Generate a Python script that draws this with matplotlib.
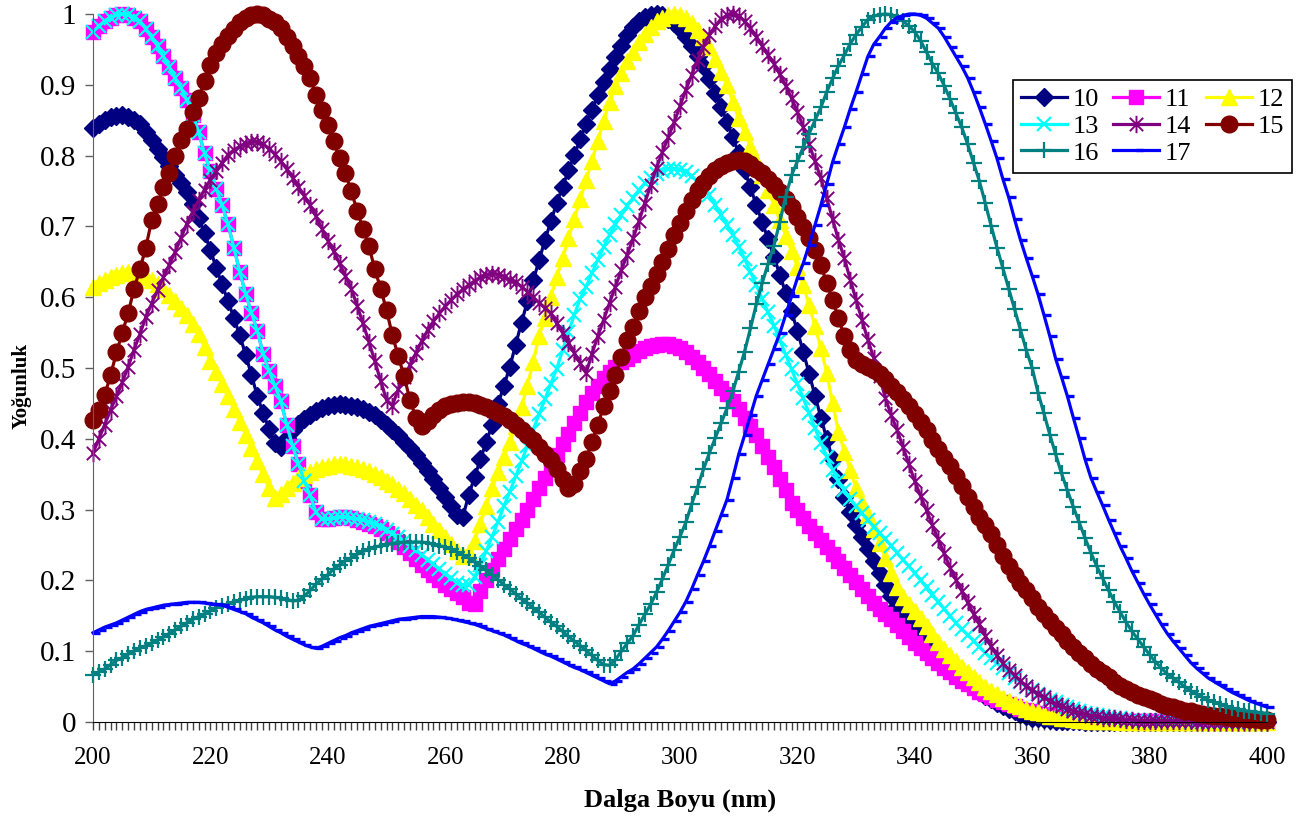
import numpy as np
import matplotlib
matplotlib.use("Agg")
import matplotlib.pyplot as plt
from matplotlib.path import Path

plt.rcParams["font.family"] = ["Liberation Serif", "DejaVu Serif"]

# wavelength grid: one point per nm, 200..400
wavelength = np.arange(200, 401)

# each row = 10 nm
s10 = [0.839, 0.845, 0.850, 0.854, 0.856, 0.857, 0.855, 0.850, 0.845, 0.834,
       0.822, 0.810, 0.798, 0.785, 0.773, 0.761, 0.748, 0.731, 0.712, 0.690,
       0.667, 0.641, 0.618, 0.594, 0.571, 0.546, 0.519, 0.490, 0.460, 0.436,
       0.414, 0.394, 0.388, 0.401, 0.412, 0.421, 0.428, 0.434, 0.439, 0.443,
       0.446, 0.448, 0.449, 0.448, 0.447, 0.445, 0.442, 0.438, 0.433, 0.427,
       0.420, 0.413, 0.405, 0.396, 0.387, 0.377, 0.366, 0.355, 0.343, 0.331,
       0.318, 0.305, 0.292, 0.290, 0.320, 0.346, 0.371, 0.396, 0.420, 0.449,
       0.475, 0.501, 0.533, 0.564, 0.594, 0.624, 0.652, 0.681, 0.707, 0.733,
       0.756, 0.779, 0.801, 0.823, 0.845, 0.865, 0.885, 0.904, 0.922, 0.939,
       0.955, 0.970, 0.981, 0.990, 0.996, 0.999, 1.000, 0.998, 0.993, 0.987,
       0.979, 0.968, 0.955, 0.941, 0.926, 0.908, 0.889, 0.869, 0.848, 0.826,
       0.803, 0.779, 0.755, 0.730, 0.706, 0.682, 0.657, 0.632, 0.606, 0.580,
       0.552, 0.523, 0.492, 0.461, 0.430, 0.400, 0.371, 0.343, 0.318, 0.296,
       0.278, 0.261, 0.245, 0.228, 0.211, 0.194, 0.178, 0.164, 0.152, 0.140,
       0.130, 0.120, 0.110, 0.101, 0.092, 0.084, 0.076, 0.069, 0.062, 0.055,
       0.049, 0.043, 0.037, 0.032, 0.027, 0.023, 0.018, 0.015, 0.011, 0.008,
       0.006, 0.005, 0.004, 0.003, 0.002, 0.001, 0.001, 0.001, 0.001, 0.0,
       0.0, 0.0, 0.0, 0.0, 0.0, 0.0, 0.0, 0.0, 0.0, 0.0,
       0.0, 0.0, 0.0, 0.0, 0.0, 0.0, 0.0, 0.0, 0.0, 0.0,
       0.0, 0.0, 0.0, 0.0, 0.0, 0.0, 0.0, 0.0, 0.0, 0.0,
       0.0]

s11 = [0.975, 0.983, 0.990, 0.995, 0.998, 1.000, 0.999, 0.995, 0.990, 0.979,
       0.967, 0.955, 0.940, 0.925, 0.910, 0.895, 0.878, 0.858, 0.833, 0.803,
       0.778, 0.753, 0.730, 0.703, 0.670, 0.636, 0.605, 0.578, 0.552, 0.520,
       0.496, 0.475, 0.453, 0.420, 0.390, 0.365, 0.340, 0.320, 0.296, 0.287,
       0.287, 0.288, 0.289, 0.289, 0.288, 0.286, 0.283, 0.280, 0.277, 0.273,
       0.267, 0.261, 0.254, 0.247, 0.239, 0.230, 0.222, 0.214, 0.207, 0.200,
       0.194, 0.188, 0.182, 0.176, 0.168, 0.166, 0.185, 0.200, 0.215, 0.230,
       0.244, 0.259, 0.272, 0.286, 0.300, 0.315, 0.330, 0.345, 0.360, 0.377,
       0.392, 0.407, 0.422, 0.437, 0.452, 0.464, 0.475, 0.486, 0.494, 0.502,
       0.508, 0.513, 0.519, 0.524, 0.528, 0.531, 0.533, 0.534, 0.534, 0.531,
       0.528, 0.522, 0.515, 0.508, 0.500, 0.491, 0.482, 0.472, 0.463, 0.453,
       0.442, 0.430, 0.418, 0.405, 0.390, 0.375, 0.360, 0.343, 0.327, 0.310,
       0.300, 0.288, 0.277, 0.267, 0.257, 0.247, 0.237, 0.228, 0.218, 0.208,
       0.198, 0.188, 0.178, 0.168, 0.160, 0.152, 0.145, 0.137, 0.129, 0.120,
       0.112, 0.104, 0.097, 0.090, 0.083, 0.076, 0.070, 0.064, 0.058, 0.053,
       0.048, 0.043, 0.039, 0.035, 0.031, 0.028, 0.025, 0.022, 0.019, 0.017,
       0.015, 0.013, 0.011, 0.010, 0.008, 0.007, 0.006, 0.006, 0.005, 0.004,
       0.004, 0.003, 0.003, 0.003, 0.002, 0.002, 0.002, 0.002, 0.001, 0.001,
       0.001, 0.001, 0.001, 0.001, 0.001, 0.0, 0.0, 0.0, 0.0, 0.0,
       0.0, 0.0, 0.0, 0.0, 0.0, 0.0, 0.0, 0.0, 0.0, 0.0,
       0.0]

s12 = [0.615, 0.620, 0.625, 0.629, 0.632, 0.634, 0.635, 0.634, 0.633, 0.629,
       0.624, 0.618, 0.612, 0.603, 0.594, 0.585, 0.575, 0.562, 0.548, 0.530,
       0.510, 0.494, 0.477, 0.460, 0.442, 0.424, 0.406, 0.387, 0.368, 0.350,
       0.330, 0.316, 0.322, 0.330, 0.337, 0.344, 0.349, 0.353, 0.357, 0.360,
       0.362, 0.364, 0.365, 0.364, 0.362, 0.360, 0.357, 0.354, 0.350, 0.346,
       0.341, 0.336, 0.329, 0.323, 0.315, 0.307, 0.299, 0.290, 0.280, 0.271,
       0.262, 0.251, 0.242, 0.235, 0.240, 0.256, 0.280, 0.305, 0.330, 0.353,
       0.374, 0.395, 0.418, 0.445, 0.475, 0.509, 0.545, 0.571, 0.600, 0.628,
       0.655, 0.683, 0.711, 0.738, 0.765, 0.793, 0.821, 0.849, 0.876, 0.898,
       0.917, 0.934, 0.947, 0.961, 0.972, 0.982, 0.990, 0.995, 0.998, 1.000,
       0.998, 0.994, 0.987, 0.978, 0.967, 0.953, 0.936, 0.918, 0.900, 0.876,
       0.853, 0.833, 0.812, 0.793, 0.772, 0.751, 0.730, 0.709, 0.687, 0.665,
       0.643, 0.617, 0.589, 0.559, 0.528, 0.493, 0.450, 0.410, 0.382, 0.356,
       0.330, 0.310, 0.292, 0.273, 0.253, 0.232, 0.210, 0.191, 0.177, 0.166,
       0.157, 0.147, 0.136, 0.124, 0.113, 0.103, 0.094, 0.086, 0.077, 0.070,
       0.063, 0.056, 0.050, 0.044, 0.039, 0.034, 0.030, 0.026, 0.022, 0.019,
       0.016, 0.014, 0.011, 0.009, 0.008, 0.006, 0.005, 0.004, 0.003, 0.003,
       0.002, 0.002, 0.001, 0.001, 0.001, 0.0, 0.0, 0.0, 0.0, 0.0,
       0.0, 0.0, 0.0, 0.0, 0.0, 0.0, 0.0, 0.0, 0.0, 0.0,
       0.0, 0.0, 0.0, 0.0, 0.0, 0.0, 0.0, 0.0, 0.0, 0.0,
       0.0]

s13 = [0.975, 0.983, 0.990, 0.995, 0.998, 1.000, 0.999, 0.995, 0.990, 0.979,
       0.967, 0.955, 0.940, 0.925, 0.910, 0.895, 0.878, 0.858, 0.833, 0.803,
       0.778, 0.753, 0.730, 0.703, 0.670, 0.636, 0.605, 0.578, 0.552, 0.520,
       0.496, 0.475, 0.453, 0.420, 0.390, 0.365, 0.340, 0.320, 0.296, 0.287,
       0.287, 0.288, 0.289, 0.289, 0.288, 0.287, 0.285, 0.282, 0.279, 0.275,
       0.271, 0.266, 0.261, 0.255, 0.249, 0.243, 0.236, 0.229, 0.223, 0.216,
       0.209, 0.203, 0.197, 0.193, 0.193, 0.205, 0.222, 0.242, 0.262, 0.283,
       0.305, 0.325, 0.347, 0.368, 0.390, 0.413, 0.435, 0.456, 0.478, 0.499,
       0.525, 0.551, 0.575, 0.598, 0.615, 0.634, 0.653, 0.671, 0.688, 0.703,
       0.716, 0.729, 0.740, 0.751, 0.761, 0.768, 0.774, 0.778, 0.781, 0.781,
       0.780, 0.777, 0.771, 0.763, 0.755, 0.744, 0.730, 0.716, 0.702, 0.688,
       0.671, 0.654, 0.636, 0.617, 0.598, 0.579, 0.560, 0.540, 0.519, 0.498,
       0.478, 0.457, 0.436, 0.415, 0.394, 0.375, 0.356, 0.340, 0.327, 0.315,
       0.305, 0.295, 0.285, 0.276, 0.267, 0.258, 0.249, 0.239, 0.229, 0.220,
       0.210, 0.200, 0.190, 0.180, 0.170, 0.160, 0.150, 0.140, 0.131, 0.123,
       0.115, 0.106, 0.098, 0.090, 0.083, 0.076, 0.069, 0.062, 0.056, 0.050,
       0.045, 0.040, 0.035, 0.031, 0.028, 0.024, 0.021, 0.018, 0.015, 0.013,
       0.011, 0.010, 0.008, 0.007, 0.006, 0.005, 0.004, 0.003, 0.003, 0.002,
       0.002, 0.001, 0.001, 0.001, 0.001, 0.001, 0.001, 0.0, 0.0, 0.0,
       0.0, 0.0, 0.0, 0.0, 0.0, 0.0, 0.0, 0.0, 0.0, 0.0,
       0.0]

s14 = [0.380, 0.400, 0.420, 0.441, 0.460, 0.480, 0.502, 0.526, 0.548, 0.572,
       0.591, 0.610, 0.628, 0.646, 0.664, 0.684, 0.704, 0.721, 0.737, 0.752,
       0.766, 0.778, 0.790, 0.801, 0.808, 0.813, 0.817, 0.819, 0.819, 0.816,
       0.810, 0.802, 0.792, 0.781, 0.769, 0.756, 0.743, 0.730, 0.714, 0.697,
       0.680, 0.665, 0.648, 0.630, 0.612, 0.588, 0.563, 0.537, 0.510, 0.482,
       0.455, 0.447, 0.470, 0.487, 0.504, 0.521, 0.538, 0.553, 0.566, 0.577,
       0.587, 0.596, 0.604, 0.611, 0.617, 0.623, 0.628, 0.631, 0.633, 0.632,
       0.629, 0.625, 0.621, 0.615, 0.608, 0.600, 0.592, 0.585, 0.577, 0.563,
       0.550, 0.536, 0.521, 0.507, 0.493, 0.520, 0.545, 0.568, 0.592, 0.615,
       0.638, 0.660, 0.683, 0.707, 0.733, 0.758, 0.783, 0.805, 0.826, 0.847,
       0.870, 0.893, 0.914, 0.935, 0.954, 0.970, 0.983, 0.993, 0.998, 1.000,
       0.997, 0.990, 0.980, 0.968, 0.955, 0.942, 0.930, 0.915, 0.899, 0.881,
       0.862, 0.840, 0.816, 0.792, 0.768, 0.740, 0.710, 0.681, 0.655, 0.625,
       0.596, 0.568, 0.540, 0.514, 0.488, 0.457, 0.433, 0.412, 0.388, 0.364,
       0.340, 0.319, 0.299, 0.278, 0.258, 0.238, 0.218, 0.201, 0.185, 0.169,
       0.153, 0.138, 0.122, 0.107, 0.094, 0.083, 0.074, 0.066, 0.058, 0.051,
       0.045, 0.040, 0.035, 0.030, 0.025, 0.022, 0.019, 0.016, 0.013, 0.011,
       0.009, 0.008, 0.006, 0.005, 0.005, 0.004, 0.003, 0.003, 0.002, 0.002,
       0.002, 0.001, 0.001, 0.001, 0.001, 0.001, 0.001, 0.001, 0.0, 0.0,
       0.0, 0.0, 0.0, 0.0, 0.0, 0.0, 0.0, 0.0, 0.0, 0.0,
       0.0]

s15 = [0.427, 0.440, 0.462, 0.490, 0.522, 0.550, 0.578, 0.612, 0.640, 0.670,
       0.709, 0.731, 0.755, 0.775, 0.800, 0.822, 0.838, 0.862, 0.882, 0.905,
       0.928, 0.945, 0.957, 0.969, 0.979, 0.988, 0.995, 0.999, 1.000, 0.998,
       0.993, 0.988, 0.980, 0.968, 0.955, 0.940, 0.926, 0.909, 0.886, 0.865,
       0.843, 0.820, 0.797, 0.775, 0.750, 0.722, 0.697, 0.672, 0.640, 0.612,
       0.582, 0.546, 0.517, 0.488, 0.455, 0.430, 0.418, 0.425, 0.433, 0.440,
       0.446, 0.449, 0.451, 0.452, 0.452, 0.451, 0.448, 0.445, 0.441, 0.437,
       0.432, 0.426, 0.420, 0.413, 0.406, 0.398, 0.388, 0.379, 0.370, 0.357,
       0.343, 0.330, 0.336, 0.355, 0.372, 0.395, 0.420, 0.446, 0.468, 0.490,
       0.515, 0.540, 0.558, 0.580, 0.600, 0.616, 0.633, 0.650, 0.668, 0.688,
       0.705, 0.722, 0.737, 0.751, 0.762, 0.771, 0.779, 0.786, 0.790, 0.793,
       0.794, 0.792, 0.788, 0.781, 0.775, 0.767, 0.759, 0.749, 0.739, 0.727,
       0.713, 0.699, 0.684, 0.667, 0.645, 0.620, 0.596, 0.570, 0.545, 0.525,
       0.512, 0.506, 0.502, 0.497, 0.491, 0.484, 0.475, 0.466, 0.456, 0.446,
       0.435, 0.424, 0.412, 0.399, 0.386, 0.373, 0.361, 0.348, 0.334, 0.318,
       0.303, 0.290, 0.278, 0.265, 0.250, 0.234, 0.221, 0.207, 0.196, 0.186,
       0.175, 0.163, 0.152, 0.142, 0.133, 0.124, 0.115, 0.106, 0.098, 0.090,
       0.082, 0.075, 0.069, 0.063, 0.057, 0.051, 0.046, 0.042, 0.038, 0.035,
       0.032, 0.029, 0.026, 0.023, 0.021, 0.018, 0.016, 0.015, 0.013, 0.012,
       0.010, 0.009, 0.008, 0.007, 0.006, 0.006, 0.005, 0.004, 0.004, 0.003,
       0.003]

s16 = [0.067, 0.071, 0.075, 0.081, 0.087, 0.091, 0.096, 0.100, 0.104, 0.108,
       0.112, 0.116, 0.120, 0.125, 0.130, 0.135, 0.140, 0.145, 0.149, 0.153,
       0.157, 0.161, 0.164, 0.167, 0.170, 0.172, 0.174, 0.176, 0.177, 0.177,
       0.177, 0.176, 0.175, 0.173, 0.171, 0.172, 0.178, 0.186, 0.195, 0.202,
       0.208, 0.216, 0.222, 0.228, 0.232, 0.237, 0.241, 0.244, 0.247, 0.249,
       0.251, 0.252, 0.253, 0.254, 0.254, 0.254, 0.254, 0.253, 0.251, 0.249,
       0.247, 0.244, 0.240, 0.236, 0.232, 0.226, 0.220, 0.214, 0.208, 0.201,
       0.194, 0.188, 0.181, 0.174, 0.168, 0.161, 0.155, 0.148, 0.141, 0.135,
       0.128, 0.121, 0.114, 0.108, 0.101, 0.094, 0.087, 0.081, 0.080, 0.088,
       0.100, 0.111, 0.122, 0.137, 0.152, 0.166, 0.183, 0.202, 0.222, 0.243,
       0.262, 0.282, 0.308, 0.332, 0.357, 0.380, 0.401, 0.422, 0.443, 0.467,
       0.495, 0.523, 0.556, 0.590, 0.620, 0.647, 0.673, 0.706, 0.742, 0.772,
       0.792, 0.812, 0.831, 0.850, 0.868, 0.890, 0.909, 0.927, 0.942, 0.958,
       0.971, 0.982, 0.992, 0.997, 0.999, 1.000, 0.999, 0.996, 0.990, 0.983,
       0.975, 0.962, 0.946, 0.930, 0.916, 0.899, 0.880, 0.860, 0.840, 0.816,
       0.790, 0.764, 0.733, 0.701, 0.670, 0.641, 0.612, 0.583, 0.554, 0.525,
       0.500, 0.465, 0.436, 0.406, 0.378, 0.351, 0.327, 0.304, 0.282, 0.260,
       0.239, 0.220, 0.203, 0.186, 0.170, 0.155, 0.141, 0.128, 0.117, 0.106,
       0.095, 0.085, 0.076, 0.068, 0.062, 0.056, 0.050, 0.044, 0.039, 0.035,
       0.031, 0.028, 0.025, 0.022, 0.020, 0.018, 0.016, 0.015, 0.014, 0.013,
       0.012]

s17 = [0.126, 0.130, 0.134, 0.137, 0.140, 0.144, 0.148, 0.152, 0.156, 0.159,
       0.161, 0.163, 0.165, 0.166, 0.167, 0.168, 0.169, 0.169, 0.169, 0.168,
       0.167, 0.166, 0.165, 0.162, 0.159, 0.156, 0.153, 0.148, 0.144, 0.140,
       0.135, 0.130, 0.126, 0.121, 0.117, 0.113, 0.109, 0.106, 0.104, 0.107,
       0.111, 0.115, 0.119, 0.122, 0.126, 0.129, 0.132, 0.135, 0.137, 0.139,
       0.141, 0.143, 0.145, 0.146, 0.147, 0.148, 0.149, 0.149, 0.149, 0.148,
       0.147, 0.146, 0.144, 0.142, 0.140, 0.138, 0.135, 0.132, 0.129, 0.126,
       0.123, 0.119, 0.115, 0.111, 0.108, 0.104, 0.100, 0.096, 0.093, 0.089,
       0.085, 0.081, 0.077, 0.074, 0.070, 0.066, 0.062, 0.058, 0.054, 0.058,
       0.064, 0.070, 0.075, 0.082, 0.090, 0.098, 0.106, 0.117, 0.129, 0.142,
       0.155, 0.170, 0.188, 0.208, 0.227, 0.248, 0.270, 0.292, 0.314, 0.345,
       0.378, 0.405, 0.433, 0.461, 0.483, 0.505, 0.527, 0.549, 0.575, 0.601,
       0.627, 0.648, 0.674, 0.702, 0.730, 0.760, 0.791, 0.816, 0.840, 0.866,
       0.890, 0.915, 0.940, 0.957, 0.968, 0.980, 0.989, 0.995, 0.998, 1.000,
       1.000, 0.998, 0.994, 0.987, 0.980, 0.968, 0.954, 0.940, 0.926, 0.910,
       0.890, 0.868, 0.845, 0.821, 0.796, 0.767, 0.741, 0.710, 0.681, 0.655,
       0.630, 0.604, 0.575, 0.545, 0.513, 0.487, 0.460, 0.430, 0.401, 0.371,
       0.345, 0.325, 0.306, 0.286, 0.267, 0.248, 0.231, 0.213, 0.197, 0.181,
       0.166, 0.152, 0.138, 0.125, 0.114, 0.104, 0.094, 0.084, 0.076, 0.069,
       0.062, 0.057, 0.052, 0.047, 0.042, 0.038, 0.034, 0.030, 0.027, 0.024,
       0.021]

series_names = ["10", "11", "12", "13", "14", "15", "16", "17"]
series_values = [s10, s11, s12, s13, s14, s15, s16, s17]

x_tick_values = [200, 220, 240, 260, 280, 300, 320, 340, 360, 380, 400]
y_tick_values = [0, 0.1, 0.2, 0.3, 0.4, 0.5, 0.6, 0.7, 0.8, 0.9, 1.0]
y_tick_labels = ["0", "0.1", "0.2", "0.3", "0.4", "0.5", "0.6", "0.7", "0.8", "0.9", "1"]

# Excel-like custom markers
star_marker = Path(
    [(-1, -1), (1, 1), (-1, 1), (1, -1), (0, -1.3), (0, 1.3)],
    [Path.MOVETO, Path.LINETO, Path.MOVETO, Path.LINETO, Path.MOVETO, Path.LINETO],
)
dash_marker = Path([(0, 0), (1, 0)], [Path.MOVETO, Path.LINETO])

styles = [
    dict(color="#000080", marker="D", ms=9, mew=1),
    dict(color="#FF00FF", marker="s", ms=10.5, mew=1),
    dict(color="#FFFF00", marker="^", ms=12, mew=1),
    dict(color="#00FFFF", marker="x", ms=10, mew=1.6),
    dict(color="#800080", marker=star_marker, ms=12.5, mew=1.4),
    dict(color="#800000", marker="o", ms=12, mew=1),
    dict(color="#008080", marker="+", ms=11, mew=1.6),
    dict(color="#0000FF", marker=dash_marker, ms=10, mew=2.4),
]

fig = plt.figure(figsize=(13.02, 8.25), dpi=100)
ax = fig.add_axes([93 / 1302, 1 - 722 / 825, (1267 - 93) / 1302, (722 - 14) / 825])

lines = []
for name, values, st in zip(series_names, series_values, styles):
    (ln,) = ax.plot(
        wavelength, values, color=st["color"], lw=2.3,
        marker=st["marker"], ms=st["ms"], mew=st["mew"],
        mfc=st["color"], mec=st["color"], label=name, clip_on=False,
    )
    lines.append(ln)

ax.set_xlim(200, 400)
ax.set_ylim(0, 1)

ax.spines["top"].set_visible(False)
ax.spines["right"].set_visible(False)
ax.spines["left"].set_color("#606060")
ax.spines["bottom"].set_color("black")

ax.set_xticks(x_tick_values)
ax.set_xticks(wavelength, minor=True)
ax.set_xticklabels([str(v) for v in x_tick_values])
ax.set_yticks(y_tick_values)
ax.set_yticklabels(y_tick_labels)

ax.tick_params(axis="x", which="both", direction="out", length=6, width=1, color="#404040")
ax.tick_params(axis="x", which="major", labelsize=18, pad=12)
ax.tick_params(axis="y", direction="out", length=6, width=1, color="#606060", labelsize=21, pad=6)

fig.text(680 / 1302, 1 - 800 / 825, "Dalga Boyu (nm)", ha="center", va="center",
         fontsize=19, fontweight="bold")
fig.text(22 / 1302, 1 - 386 / 825, "Yoğunluk", ha="center", va="center",
         rotation=90, fontsize=15, fontweight="bold")

# row-wise legend order as in the reference (3 columns)
order = [0, 3, 6, 1, 4, 7, 2, 5]
leg = fig.legend(
    [lines[i] for i in order], [series_names[i] for i in order],
    ncol=3, loc="upper left", bbox_to_anchor=(1013 / 1302, 1 - 80 / 825),
    bbox_transform=fig.transFigure, borderaxespad=0, fontsize=19,
    handlelength=1.75, handletextpad=0.2, columnspacing=0.55,
    labelspacing=0.12, borderpad=0.3, numpoints=1, fancybox=False,
    framealpha=1, edgecolor="black",
)
leg.get_frame().set_linewidth(1.2)

fig.savefig("out.png", dpi=100)
